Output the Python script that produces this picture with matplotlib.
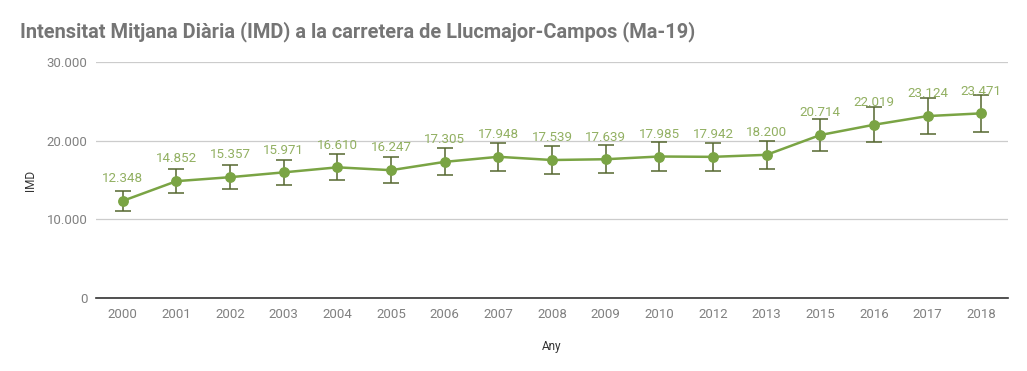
import matplotlib.pyplot as plt
import numpy as np

plt.rcParams['font.family'] = ['Roboto', 'DejaVu Sans']

anys = ["2000", "2001", "2002", "2003", "2004", "2005", "2006", "2007", "2008",
        "2009", "2010", "2012", "2013", "2015", "2016", "2017", "2018"]
imd = [12348, 14852, 15357, 15971, 16610, 16247, 17305, 17948, 17539,
       17639, 17985, 17942, 18200, 20714, 22019, 23124, 23471]
error_pct = 0.10  # barres d'error del 10%

verd = "#7aa444"
gris = "#757575"

fig = plt.figure(figsize=(10.27, 3.71), dpi=100)
ax = fig.add_axes([0.0935, 0.1968, 0.888, 0.6361])

x = np.arange(len(anys))
vals = np.array(imd)
ax.errorbar(x, vals, yerr=vals * error_pct, color=verd, lw=1.8, marker="o",
            markersize=6.8, ecolor="#55672f", elinewidth=1.1, capsize=6,
            capthick=1.1, zorder=3)

for xi, v in zip(x, imd):
    ax.annotate(f"{v:,}".replace(",", "."), (xi, v), xytext=(0, 16),
                textcoords="offset points", ha="center", va="center",
                fontsize=9.6, color="#92b062", zorder=4)

ax.set_xlim(-0.5, len(anys) - 0.5)
ax.set_ylim(0, 30000)
ax.set_yticks([0, 10000, 20000, 30000])
ax.set_yticklabels(["0", "10.000", "20.000", "30.000"])
ax.set_xticks(x)
ax.set_xticklabels(anys)
ax.tick_params(length=0, labelsize=9.5, labelcolor="#808080", pad=7)
ax.tick_params(axis="y", pad=6)
ax.grid(axis="y", color="#cccccc", lw=0.9)
ax.set_axisbelow(True)
for s in ["top", "right", "left"]:
    ax.spines[s].set_visible(False)
ax.spines["bottom"].set_color("#333333")
ax.spines["bottom"].set_linewidth(1.2)

ax.set_xlabel("Any", fontsize=8.5, color="#333333", labelpad=14)
ax.set_ylabel("IMD", fontsize=8.5, color="#333333", labelpad=7)

fig.text(0.0195, 0.915, "Intensitat Mitjana Diària (IMD) a la carretera de Llucmajor-Campos (Ma-19)",
         fontsize=14.4, fontweight="bold", color=gris, va="center", ha="left")

fig.savefig("out.png", dpi=100)
